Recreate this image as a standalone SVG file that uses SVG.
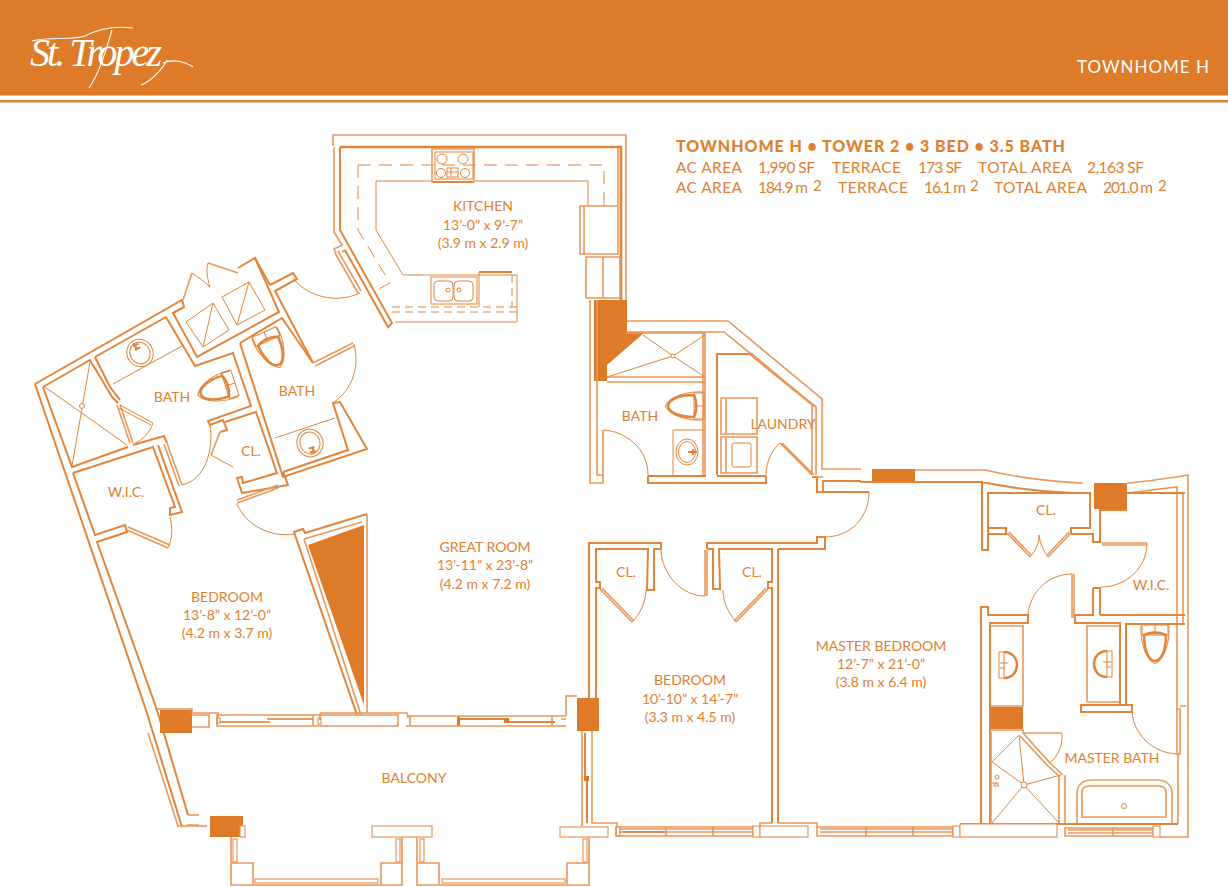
<svg xmlns="http://www.w3.org/2000/svg" width="1228" height="887" viewBox="0 0 1228 887">
<style>
text{font-family:Lato,"Open Sans","Liberation Sans",sans-serif;fill:#E0802F;font-size:14px}
.c{text-anchor:middle}
.w,.t,.h,.d{fill:none;stroke:#E2843A;stroke-linejoin:miter}
.w{stroke-width:2}
.h{stroke-width:1.6;stroke:#E9975A}
.t{stroke-width:1}
.d{stroke-width:1;stroke-dasharray:13 8}
.k{stroke-width:2.600}
.a{font-size:15.500px}
.e{font-size:15px}
.f{fill:#DE7B28}
.b{fill:#fff;stroke:#E9975A;stroke-width:1.2}
</style>
<defs>
<g id="toilet"><path class="t" d="M-13 0H13V10H-13ZM0 0V10M-14 1C-15 16-10 34 0 39C10 34 15 16 14 1"/><path class="w k" d="M-11 10C-11 26-6 36 0 36C6 36 11 26 11 10C4 7-4 7-11 10Z"/></g>
<g id="sink"><ellipse class="t" cx="0" cy="0" rx="13" ry="14"/><ellipse class="t" cx="0" cy="0" rx="10" ry="11"/><path class="w" d="M-1 -11V-4M-3 -9H3M-3 -5H3"/></g>
<g id="dsink"><path class="w k" d="M0 -13C9 -13 13 -6 13 0C13 6 9 13 0 13"/><path class="t" d="M-5 -13H0V13H-5ZM-4 -2H4M-4 3H1"/></g>
</defs>

<g id="header">
<rect class="f" width="1228" height="95.500"/>
<rect class="f" y="100" width="1228" height="2.500"/>
<text x="30" y="66" textLength="132" style="font-family:'Liberation Serif',serif;font-style:italic;font-size:40px;fill:#fff">St. Tropez</text>
<path fill="none" stroke="#fff" stroke-width="1.100" d="M32 41C50 36 70 41 85 36C100 28 118 26 133 28M163 63C172 59 184 61 193 67M167 60C162 70 150 82 141 85M112 30C106 50 100 72 89 88"/>
<text class="c" x="1143" y="73" textLength="132" style="font-size:17px;fill:#fff">TOWNHOME H</text>
</g>

<g id="info">
<text x="676" y="152" textLength="389" style="font-weight:900;font-size:16px">TOWNHOME H • TOWER 2 • 3 BED • 3.5 BATH</text>
<text class="a" x="676" y="173" textLength="66">AC AREA</text>
<text class="a" x="758" y="173" textLength="57">1,990 SF</text>
<text class="a" x="832" y="173" textLength="69">TERRACE</text>
<text class="a" x="918" y="173" textLength="44">173 SF</text>
<text class="a" x="978" y="173" textLength="94">TOTAL AREA</text>
<text class="a" x="1087" y="173" textLength="57">2,163 SF</text>
<text class="a" x="676" y="193" textLength="66">AC AREA</text>
<text class="a" x="758" y="193" textLength="50">184.9 m</text>
<text class="e" x="813" y="191">2</text>
<text class="a" x="838" y="193" textLength="70">TERRACE</text>
<text class="a" x="924" y="193" textLength="42">16.1 m</text>
<text class="e" x="970" y="191">2</text>
<text class="a" x="994" y="193" textLength="93">TOTAL AREA</text>
<text class="a" x="1103" y="193" textLength="50">201.0 m</text>
<text class="e" x="1158" y="191">2</text>
</g>

<g id="kitchen">
<path class="h" d="M333 146V135H626V301"/>
<path class="w" style="stroke-width:2.600" d="M340 147H621V301"/>
<path class="h" d="M334 147V232L342 245L334 249L336 253M345 250L342 252"/>
<path class="w" d="M340 147V230L392 323L388 327L345 250"/>
<path class="h" d="M618 148V205M335 253L358 293M338 251L361 291"/>
<path class="d" d="M358 165H604V205M358 165V230L390 283L377 290"/>
<path class="t" d="M376 181H431M475 181H588V205M376 181V230L403 275H517V322H395"/>
<path class="d" style="stroke-dasharray:8 5" d="M392 307H517M392 312H517M512 275V307"/>
<path class="w" d="M479 272H512"/>
<path class="t" d="M479 272V307"/>
<path class="h" d="M432 149H474V182H432Z"/>
<path class="w" d="M433 182H473"/>
<rect class="t" x="435" y="152" width="38" height="27"/>
<circle class="t" cx="442" cy="159" r="5"/><circle class="t" cx="463" cy="159" r="5"/><circle class="t" cx="441" cy="173" r="4.500"/><circle class="t" cx="465" cy="173" r="4.500"/>
<rect class="t" x="447" y="168" width="11" height="9"/><path class="t" d="M451 168V177M447 172H458"/>
<rect class="t" x="431" y="277" width="46" height="27"/>
<rect class="t" x="434" y="281" width="19" height="20" rx="4"/><rect class="t" x="454" y="281" width="19" height="20" rx="4"/>
<circle class="t" cx="448" cy="290" r="2"/><circle class="t" cx="459" cy="290" r="2"/>
<path class="h" d="M584 206H618V254H584ZM580 206H584V254H580Z"/>
<path class="h" d="M586 257H620V298H586ZM603 257V298"/>
<path class="t" d="M293 278C305 295 335 305 360 293"/>
</g>

<g id="baths-west">
<path class="w" d="M35 384L182 300L184 307L173 313L197 357L279 312L255 258L238 268"/>
<path class="w" d="M43 387L90 360L112 397L118 403M95 357L110 387L120 400M95 357L166 317L195 366L233 353L251 406L208 421L210 425L223 420L227 430L220 432"/>
<path class="w" d="M35 384L146 710L182 827"/>
<path class="w" d="M43 387L72 467L128 447M133 445L164 436L167 443M73 473L153 447L175 507L170 508V515L182 512L158 445"/>
<path class="w" d="M73 473L95 535L125 525L127 532L97 542L157 710L188 815"/>
<path class="h" d="M117 405L130 443M120 405L133 443"/>
<path class="t" d="M120 405L153 423C150 432 143 440 135 443M119 408L151 425"/>
<path class="t" d="M45 387L127 445M90 362L72 466"/>
<circle cx="82" cy="406" r="2.500" fill="#fff" stroke="#E2843A"/>
<path class="t" d="M113 384L182 346M275 438L335 418"/>
<use href="#sink" transform="translate(140 353) rotate(-28)"/>
<use href="#sink" transform="translate(310 443) rotate(162)"/>
<path class="h" d="M127 530L168 548M128 527L170 545"/>
<path class="t" d="M170 517C173 528 172 540 168 548"/>
<path class="h" d="M167 443L182 485M164 444L179 486M183 300L192 273M208 263L238 273"/>
<path class="t" d="M182 485C205 480 214 450 210 425"/>
<path class="t" d="M192 273C198 277 205 282 210 287C207 278 206 270 208 263"/>
<path class="t" d="M186 322L213 303L229 330L203 347ZM203 347L213 303M222 297L249 282L265 310L237 325ZM237 325L249 282"/>
<path class="w" d="M270 285L293 273L297 279L275 291L313 363M255 258L270 285"/>
<path class="w" d="M240 343L282 318L313 363M240 343L283 477L367 449L340 402L333 403L348 450L283 472M225 422L256 412L277 473L243 483L242 477L237 478L242 493L288 485L283 472"/>
<path class="h" d="M313 363L353 343M315 366L354 346"/>
<path class="t" d="M354 344C360 367 352 390 334 402"/>
<path class="h" d="M278 488L237 503M278 485L237 500"/>
<path class="t" d="M237 504C246 525 270 538 295 534"/>
<path class="h" d="M220 432L211 455"/>
<path class="t" d="M211 455L233 467"/>
<use href="#toilet" transform="translate(264 332) rotate(-24)"/>
<use href="#toilet" transform="translate(235 383) rotate(72)"/>
</g>

<g id="great-room-wedge">
<polygon class="f" points="308,545 364,525 364,705"/>
<path class="w" d="M367 514L305 533L303 529L294 532L357 715"/>
<path class="h" d="M304 539L361 715M304 539L362 522M367 514V713"/>
</g>

<g id="bath-laundry">
<polygon class="f" points="594,300 627,300 627,332 645,332 607,365 607,381 594,381"/>
<path class="h" d="M590 300V483H603V475H597V300M627 321H728L822 399V469H861M627 332H724L816 407V475M812 405V475"/>
<path class="h" d="M705 333V476M607 377H705M607 382H705M703 333V476M626 333H705"/>
<path class="t" d="M673 356L643 335M673 356L705 335M673 356L705 377M673 356L607 377"/>
<circle cx="673" cy="356" r="2" fill="#fff" stroke="#E2843A"/>
<path class="w" d="M717 475V354H753M648 476H706M717 476H766M648 476V483H766V476"/>
<path class="h" d="M748 353L812 405M751 353L815 407M780 443L812 475M782 443L814 475"/>
<path class="t" d="M603 430C625 431 648 448 648 475M766 475C766 462 772 450 780 443"/>
<path class="h" d="M603 430V475"/>
<path class="t" d="M673 475V430H705"/>
<ellipse class="t" cx="687" cy="452" rx="11" ry="13"/><ellipse class="t" cx="687" cy="452" rx="8.500" ry="10.500"/>
<path class="w" d="M688 452H697M693 449V455"/>
<use href="#toilet" transform="translate(704 406) rotate(90)"/>
<path class="h" d="M721 398H757V434H721ZM726 398V434M721 437H757V473H721ZM726 437V473"/>
<rect class="t" x="732" y="443" width="19" height="24" rx="2"/>
<path class="w" d="M812 477H817V492H823V481H861M823 492H869"/>
<path class="h" d="M823 481V492M813 477H823"/>
<path class="t" d="M869 492C869 518 850 537 825 537"/>
<path class="w" d="M707 549V543H817V537H825V549H778"/>
</g>

<g id="bedroom-mid">
<path class="w" d="M589 698V543H661V549H654V590H647L648 549H596V582H600V588H596V698"/>
<path class="w" d="M707 549H713V589H720L719 549H772V582H768V588H772V823M778 549V823"/>
<path class="h" d="M600 589L632 622M602 588L634 621M768 589L736 622M766 588L734 621"/>
<path class="t" d="M632 622C640 614 646 602 646 590M736 622C728 612 723 602 723 590M661 550C662 575 682 596 705 596"/>
<path class="h" d="M705 550V596M707 550V596"/>
</g>

<g id="master">
<rect class="f" x="872" y="469" width="43" height="12"/>
<rect class="f" x="1094" y="483" width="33" height="26"/>
<path class="h" d="M915 470H985C1010 476 1050 482 1083 483M1127 483C1145 482 1170 478 1188 475V837H1160M1127 493L1177 487V709M1183 493V624"/>
<path class="w" d="M860 482H982V550H988V528H1006V534H988M988 528V493H1090V528H1071V534H1093V542H1100V510H1127M982 482C1010 488 1045 492 1073 493"/>
<path class="w" d="M1127 493H1185M1100 615H1185M1093 588H1100V615M1093 588V615H1075V623H1120V705M1126 705V624H1185"/>
<path class="h" d="M1007 533L1030 557M1009 532L1031 555M1048 557L1071 533M1047 555L1069 532M1102 543H1147M1102 545H1147M1072 574V618M1074 574V618"/>
<path class="t" d="M1030 557C1036 550 1039 543 1039 535C1040 543 1043 550 1048 557M1147 543C1147 568 1126 587 1101 587M1072 574C1048 574 1030 592 1028 615"/>
<path class="w" d="M981 825V607H988V615H1028V623H990V825"/>
<path class="h" d="M991 626H1023V706H991M1087 702V626H1119M1087 702H1119"/>
<use href="#dsink" transform="translate(1004 665)"/>
<use href="#dsink" transform="translate(1107 664) scale(-1 1)"/>
<use href="#toilet" transform="translate(1155 625)"/>
<path class="w" d="M1081 705H1132V712H1081ZM1126 705H1132"/>
<rect class="f" x="991" y="707" width="32" height="22"/>
<path class="h" d="M991 730H1023V733M991 732V823"/>
<path class="t" d="M1024 785L992 762M1024 785L1019 735M1024 785L1061 775M1024 785L1059 823M1024 785L992 823M1019 735L992 762"/>
<circle cx="1024" cy="785" r="3" fill="#fff" stroke="#E2843A"/>
<path class="h" d="M1023 733L1050 763M1020 736L1047 765M1050 763L1063 775M1047 765L1060 777M1059 776V823M1065 775V823M1023 733H1062"/>
<path class="t" d="M1062 733C1063 745 1058 756 1050 763"/>
<circle class="t" cx="997" cy="777" r="2"/><path class="t" d="M992 783H999M996 783L994 786H999Z"/>
<path class="h" d="M1077 823V793C1077 785 1083 780 1092 780H1157C1166 780 1172 785 1172 793V823"/>
<path class="h" d="M1082 817V793Q1082 786 1089 786H1159Q1166 786 1166 793V817Z"/>
<circle class="t" cx="1124" cy="806" r="2.500"/>
<path class="h" d="M1177 709H1180V754H1177ZM1180 706H1186"/>
<path class="t" d="M1132 712C1134 735 1153 753 1177 754"/>
<path class="h" d="M1178 754V824"/>
<path class="w" d="M960 824H1178"/>
</g>

<g id="balcony">
<rect class="f" x="160" y="710" width="32" height="23"/>
<rect class="f" x="210" y="816" width="33" height="21"/>
<rect class="f" x="577" y="698" width="22" height="33"/>
<path class="h" d="M155 709H192V713H218V718M192 715H209V727H192"/>
<path class="h" d="M320 713H407L408 718M320 713V720M217 715H398V726H217ZM313 715V726"/>
<rect class="t" x="217" y="718" width="3" height="5"/>
<rect class="t" x="318" y="718" width="3" height="6"/>
<path class="w" style="stroke-opacity:.8" d="M220 722H270M267 719H313"/>
<path class="h" d="M408 716H566M406 726H566M410 716V726M458 716V726M552 716V726"/>
<path class="w" d="M460 719H507M507 722H555"/>
<rect class="f" x="504" y="718" width="5" height="5"/>
<rect class="f" x="457" y="717" width="3" height="8"/>
<path class="h" d="M566 716V696H577M561 719H566"/>
<path class="h" d="M582 731V826M592 731V823H617V827"/>
<path class="w" d="M585 733V778M587 778V823"/>
<rect class="f" x="584" y="776" width="5" height="5"/>
<path class="h" d="M148 733L178 826H207M188 815H199M187 825H199"/>
<rect class="b" x="372" y="826" width="60" height="11"/>
<rect class="b" x="560" y="827" width="48" height="10"/>
<rect class="b" x="240" y="826" width="5" height="11"/>
<rect class="b" x="616" y="827" width="4" height="9"/>
<path class="h" d="M231 837V885H402V837M417 837V885H589V837"/>
<path class="h" d="M231 863H253V885M381 885V863H402M418 863H439V885M567 885V863H589"/>
<rect class="b" x="233" y="839" width="4" height="23"/><rect class="b" x="396" y="839" width="4" height="23"/><rect class="b" x="420" y="839" width="4" height="23"/><rect class="b" x="583" y="839" width="4" height="23"/>
<rect class="b" x="255" y="879" width="123" height="4"/><rect class="b" x="442" y="879" width="123" height="4"/>
</g>

<g id="south-windows">
<path class="h" d="M616 827H753V836H616ZM619 829H753M619 832H753M666 827V836M713 827V836"/>
<path class="w" style="stroke-opacity:.8" d="M623 832H666"/>
<rect class="b" x="753" y="826" width="7" height="11"/>
<rect class="b" x="760" y="826" width="48" height="11"/>
<path class="h" d="M760 826V823H772M778 823H817V827"/>
<path class="h" d="M817 827H953V836H817ZM820 829H953M820 832H953M866 827V836M913 827V836"/>
<rect class="b" x="953" y="826" width="7" height="11"/>
<rect class="b" x="960" y="824" width="97" height="13"/>
<path class="h" d="M1065 828H1153V836H1065ZM1068 830H1153M1068 833H1153M1113 828V836"/>
<rect class="b" x="1153" y="826" width="7" height="11"/>
</g>

<g id="labels">
<text class="c" x="483" y="211">KITCHEN</text>
<text class="c" x="483" y="230">13’-0” x 9’-7”</text>
<text class="c" x="483" y="248">(3.9 m x 2.9 m)</text>
<text class="c" x="172" y="402">BATH</text>
<text class="c" x="297" y="396">BATH</text>
<text class="c" x="640" y="421">BATH</text>
<text class="c" x="783" y="429">LAUNDRY</text>
<text class="c" x="251" y="456">CL.</text>
<text class="c" x="126" y="497">W.I.C.</text>
<text class="c" x="1151" y="590">W.I.C.</text>
<text class="c" x="485" y="552">GREAT ROOM</text>
<text class="c" x="485" y="570">13’-11” x 23’-8”</text>
<text class="c" x="485" y="589">(4.2 m x 7.2 m)</text>
<text class="c" x="227" y="602">BEDROOM</text>
<text class="c" x="227" y="620">13’-8” x 12’-0”</text>
<text class="c" x="227" y="638">(4.2 m x 3.7 m)</text>
<text class="c" x="626" y="577">CL.</text>
<text class="c" x="752" y="577">CL.</text>
<text class="c" x="1046" y="515">CL.</text>
<text class="c" x="690" y="685">BEDROOM</text>
<text class="c" x="690" y="704">10’-10” x 14’-7”</text>
<text class="c" x="690" y="722">(3.3 m x 4.5 m)</text>
<text class="c" x="881" y="651">MASTER BEDROOM</text>
<text class="c" x="881" y="669">12’-7” x 21’-0”</text>
<text class="c" x="881" y="687">(3.8 m x 6.4 m)</text>
<text class="c" x="1112" y="763">MASTER BATH</text>
<text class="c" x="414" y="783">BALCONY</text>
</g>
</svg>
